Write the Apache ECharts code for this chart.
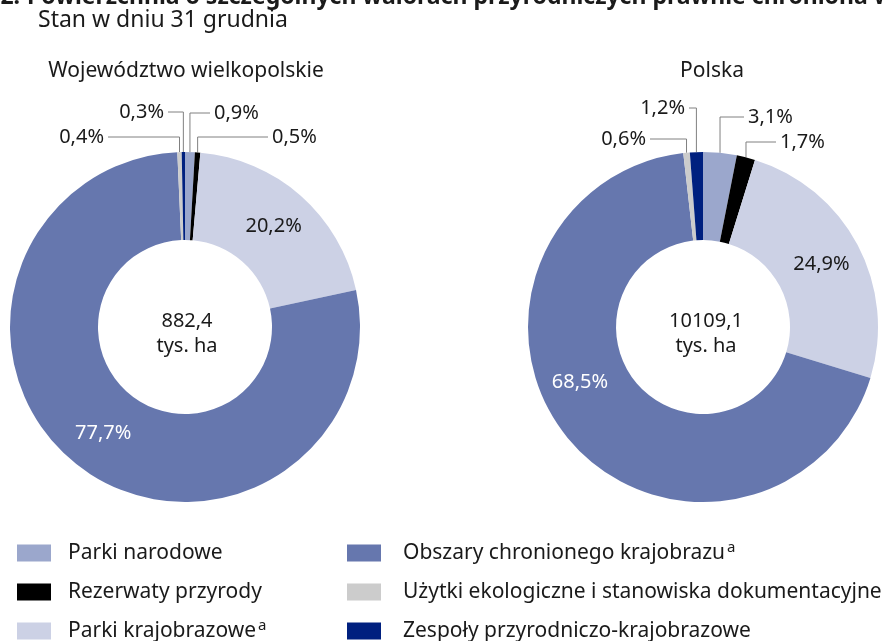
<!DOCTYPE html>
<html>
<head>
<meta charset="utf-8">
<script src="https://cdn.jsdelivr.net/npm/echarts@6/dist/echarts.min.js"></script>
<style>
  html, body { margin: 0; padding: 0; background: #fff; }
  #chart { width: 885px; height: 641px; }
</style>
</head>
<body>
<div id="chart"></div>
<script>
// dane
const categories = [
  'Parki narodowe',
  'Rezerwaty przyrody',
  'Parki krajobrazowe',
  'Obszary chronionego krajobrazu',
  'Użytki ekologiczne i stanowiska dokumentacyjne',
  'Zespoły przyrodniczo-krajobrazowe'
];
const footnoted = ['Parki krajobrazowe', 'Obszary chronionego krajobrazu'];
const wielkopolskieValues = [0.9, 0.5, 20.2, 77.7, 0.4, 0.3];
const polskaValues = [3.1, 1.7, 24.9, 68.5, 0.6, 1.2];
const regions = ['Województwo wielkopolskie', 'Polska'];
const totals = ['882,4', '10109,1'];
const colors = ['#9ba7cc', '#000000', '#ccd1e5', '#6677ae', '#cccccc', '#00207f'];

const FONT = 'Noto Sans';
const TXT = '#1a1a1a';
const R_OUT = 175, R_IN = 87;

const fmt = v => v.toFixed(1).replace('.', ',') + '%';

// ustawienia podpisow na zewnatrz (dla malych wycinkow)
const outside = [
  { 0: { y: 113, x: 210, align: 'left' }, 1: { y: 137, x: 268, align: 'left' },
    4: { y: 137, x: 108, align: 'right' }, 5: { y: 112, x: 168, align: 'right' } },
  { 0: { y: 117, x: 744, align: 'left' }, 1: { y: 142, x: 776, align: 'left' },
    4: { y: 139, x: 650, align: 'right' }, 5: { y: 108, x: 689, align: 'right' } }
];
const insideShift = [{}, { 3: { dx: -20, dy: -30 } }];
const centers = [[185, 327], [703, 327]];

function makeSeries(values, k) {
  const total = values.reduce((a, b) => a + b, 0);
  const cx = centers[k][0], cy = centers[k][1];
  const data = values.map((v, i) => {
    const out = outside[k][i];
    return {
      name: categories[i],
      value: v,
      label: out ? { position: 'outside', color: TXT }
                 : { position: 'inside', color: i === 3 ? '#ffffff' : TXT },
      labelLine: { show: !!out }
    };
  });
  return {
    type: 'pie',
    center: centers[k],
    radius: [R_IN, R_OUT],
    startAngle: 90,
    clockwise: true,
    avoidLabelOverlap: false,
    animation: false,
    itemStyle: { borderWidth: 0 },
    label: {
      formatter: p => fmt(p.value),
      fontFamily: FONT,
      fontSize: 20
    },
    labelLine: { lineStyle: { color: '#808080', width: 1 } },
    labelLayout: function (params) {
      const i = params.dataIndex;
      const out = outside[k][i];
      if (!out) {
        const s = insideShift[k][i];
        return s ? { dx: s.dx, dy: s.dy } : {};
      }
      let cum = 0;
      for (let j = 0; j < i; j++) cum += values[j];
      const mid = (cum + values[i] / 2) / total * Math.PI * 2;
      const ax = cx + R_OUT * Math.sin(mid);
      const ay = cy - R_OUT * Math.cos(mid);
      return {
        x: out.align === 'left' ? out.x + 4 : out.x - 4,
        y: out.y,
        align: out.align,
        verticalAlign: 'middle',
        labelLinePoints: [[ax, ay], [ax, out.y], [out.x, out.y]]
      };
    },
    data: data
  };
}

function legendFor(names, left, gap) {
  return {
    orient: 'vertical',
    left: left,
    top: 540,
    height: 120,
    padding: 0,
    itemWidth: 34,
    itemHeight: 17,
    itemGap: 13,
    icon: 'rect',
    selectedMode: false,
    data: names,
    formatter: n => footnoted.includes(n) ? n + '{sup|a}' : n,
    textStyle: {
      fontFamily: FONT,
      fontSize: 21,
      lineHeight: 26,
      color: TXT,
      padding: [0, 0, 0, gap],
      rich: { sup: { fontSize: 15, lineHeight: 15, verticalAlign: 'top', padding: [0, 0, 0, 2], fontFamily: FONT, color: TXT } }
    }
  };
}

const titleFont = 'bold 23px "' + FONT + '"';

const chart = echarts.init(document.getElementById('chart'));
chart.setOption({
  backgroundColor: '#ffffff',
  color: colors,
  legend: [legendFor(categories.slice(0, 3), 17, 12), legendFor(categories.slice(3), 347, 17)],
  graphic: [
    // tytul wykresu - uciety u gory jak na oryginale
    { type: 'text', x: 20, y: -3,
      style: { text: 'Wykres 2.', font: titleFont, fill: TXT, align: 'right', verticalAlign: 'middle' } },
    { type: 'text', x: 27, y: -3,
      style: { text: 'Powierzchnia o szczególnych walorach przyrodniczych prawnie chroniona w województwie',
               font: titleFont, fill: TXT, align: 'left', verticalAlign: 'middle' } },
    { type: 'text', left: 38, top: 9,
      style: { text: 'Stan w dniu 31 grudnia', font: '23px "' + FONT + '"', fill: TXT } },
    { type: 'text', x: 186, y: 71,
      style: { text: regions[0], font: '21px "' + FONT + '"', fill: TXT, align: 'center', verticalAlign: 'middle' } },
    { type: 'text', x: 712, y: 71,
      style: { text: regions[1], font: '21px "' + FONT + '"', fill: TXT, align: 'center', verticalAlign: 'middle' } },
    { type: 'text', x: 187, y: 334,
      style: { text: totals[0] + '\ntys. ha', font: '20px "' + FONT + '"', lineHeight: 25, fill: TXT, align: 'center', verticalAlign: 'middle' } },
    { type: 'text', x: 706, y: 334,
      style: { text: totals[1] + '\ntys. ha', font: '20px "' + FONT + '"', lineHeight: 25, fill: TXT, align: 'center', verticalAlign: 'middle' } }
  ],
  series: [makeSeries(wielkopolskieValues, 0), makeSeries(polskaValues, 1)]
});
</script>
</body>
</html>
